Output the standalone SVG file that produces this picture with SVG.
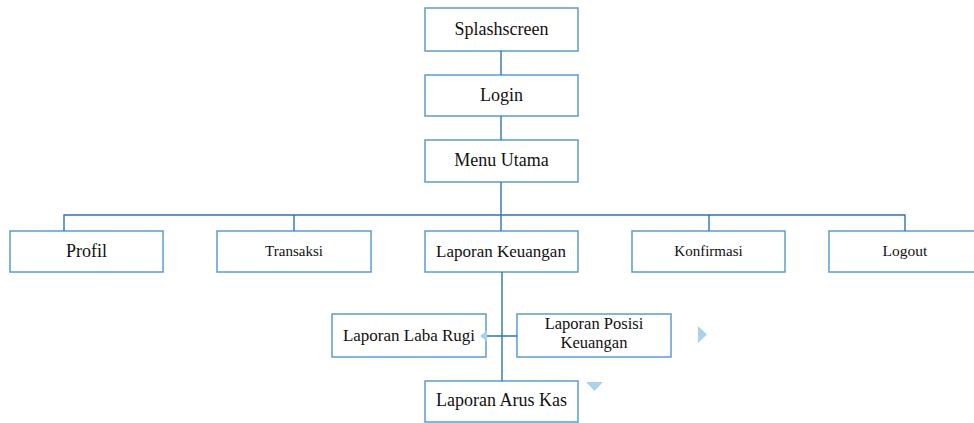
<svg xmlns="http://www.w3.org/2000/svg" width="974" height="423" viewBox="0 0 974 423">
<style>
.box{fill:#fff;stroke:#5b9bd5;stroke-width:1.5}
.t{font-family:'Liberation Serif','Times New Roman',serif;fill:#111;text-anchor:middle}
.ln{fill:none;stroke:#2e75b6;stroke-width:1.4}
.tri{fill:#a9d3ec}
</style>
<rect width="974" height="423" fill="#fff"/>
<g id="splashscreen"><rect class="box" x="425" y="8" width="153" height="43"/><text class="t" x="501.5" y="35" font-size="18">Splashscreen</text></g>
<g id="login"><rect class="box" x="425" y="75" width="153" height="41"/><text class="t" x="501.5" y="101" font-size="18">Login</text></g>
<g id="menu-utama"><rect class="box" x="425" y="140" width="153" height="42"/><text class="t" x="501.5" y="166" font-size="18">Menu Utama</text></g>
<g id="profil"><rect class="box" x="10" y="231" width="153" height="41"/><text class="t" x="86.5" y="257" font-size="18">Profil</text></g>
<g id="transaksi"><rect class="box" x="217" y="231" width="154" height="41"/><text class="t" x="294" y="256" font-size="15">Transaksi</text></g>
<g id="laporan-keuangan"><rect class="box" x="425" y="231" width="153" height="41"/><text class="t" x="501" y="257" font-size="17">Laporan Keuangan</text></g>
<g id="konfirmasi"><rect class="box" x="632" y="231" width="153" height="41"/><text class="t" x="708.5" y="256" font-size="15">Konfirmasi</text></g>
<g id="logout"><rect class="box" x="829" y="231" width="150" height="41"/><text class="t" x="905" y="256" font-size="15.5">Logout</text></g>
<g id="laporan-laba-rugi"><rect class="box" x="332" y="314" width="154" height="43"/><text class="t" x="409" y="341" font-size="17">Laporan Laba Rugi</text></g>
<g id="laporan-posisi-keuangan"><rect class="box" x="517" y="314" width="154" height="43"/><text class="t" x="594" y="329" font-size="16.5">Laporan Posisi</text><text class="t" x="594" y="348" font-size="16.5">Keuangan</text></g>
<g id="laporan-arus-kas"><rect class="box" x="425" y="381" width="153" height="41"/><text class="t" x="501.5" y="406" font-size="18">Laporan Arus Kas</text></g>
<g id="connectors">
<path class="ln" d="M501 51V75M501 116V140M501 182V231M64 231V215H905V231M294 215V231M709 215V231"/>
<path class="ln" d="M502 272V381M487 336H517"/>
<polygon class="tri" points="480,336 487,330.5 487,341.5"/>
</g>
<polygon class="tri" points="698,326 707,334.5 698,343"/>
<polygon class="tri" points="586,382 603,382 594.5,391"/>
</svg>
